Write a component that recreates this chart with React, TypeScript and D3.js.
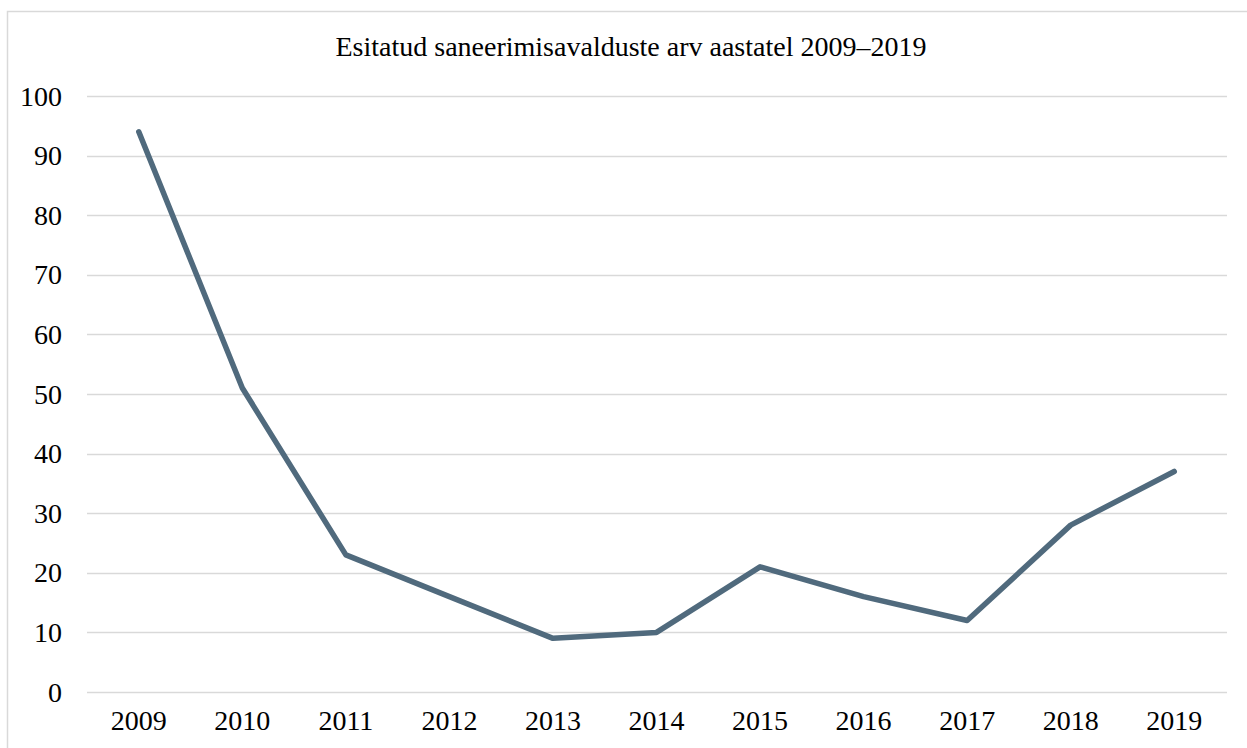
import { useEffect, useRef } from "react";
import * as d3 from "d3";

const years = ["2009", "2010", "2011", "2012", "2013", "2014", "2015", "2016", "2017", "2018", "2019"];
const counts = [94, 51, 23, 16, 9, 10, 21, 16, 12, 28, 37];
const yTicks = [0, 10, 20, 30, 40, 50, 60, 70, 80, 90, 100];
const title = "Esitatud saneerimisavalduste arv aastatel 2009–2019";

const W = 1247;
const H = 748;
const margin = { left: 87, right: 21, top: 96, bottom: 56 };
const font = "'Liberation Serif', 'Times New Roman', serif";
const fontSize = 28;

function App() {
  const ref = useRef<SVGSVGElement>(null);

  useEffect(() => {
    const svg = d3.select(ref.current);
    svg.selectAll("*").remove();

    const x = d3.scaleBand().domain(years).range([margin.left, W - margin.right]);
    const y = d3.scaleLinear().domain([0, 100]).range([H - margin.bottom, margin.top]);

    // chart frame (right and bottom edges fall off the picture)
    svg.append("rect")
      .attr("x", 7.5).attr("y", 11.5)
      .attr("width", W).attr("height", H)
      .attr("fill", "#fff")
      .attr("stroke", "#d9d9d9")
      .attr("stroke-width", 1.5);

    // title is centred on the whole chart area, not on the plot
    svg.append("text")
      .attr("x", 631)
      .attr("y", 56)
      .attr("text-anchor", "middle")
      .attr("font-family", font)
      .attr("font-size", fontSize)
      .attr("fill", "#000")
      .text(title);

    // horizontal gridlines
    svg.append("g")
      .selectAll("line")
      .data(yTicks)
      .join("line")
      .attr("x1", margin.left)
      .attr("x2", W - margin.right + 1)
      .attr("y1", (d) => Math.round(y(d)) + 0.5)
      .attr("y2", (d) => Math.round(y(d)) + 0.5)
      .attr("stroke", "#d9d9d9")
      .attr("stroke-width", 1.5);

    svg.append("g")
      .selectAll("text")
      .data(yTicks)
      .join("text")
      .attr("x", 62)
      .attr("y", (d) => y(d) + 9.5)
      .attr("text-anchor", "end")
      .attr("font-family", font)
      .attr("font-size", fontSize)
      .attr("fill", "#000")
      .text((d) => d);

    svg.append("g")
      .selectAll("text")
      .data(years)
      .join("text")
      .attr("x", (d) => (x(d) ?? 0) + x.bandwidth() / 2)
      .attr("y", 730)
      .attr("text-anchor", "middle")
      .attr("font-family", font)
      .attr("font-size", fontSize)
      .attr("fill", "#000")
      .text((d) => d);

    const line = d3.line<number>()
      .x((_, i) => (x(years[i]) ?? 0) + x.bandwidth() / 2)
      .y((d) => y(d));

    svg.append("path")
      .datum(counts)
      .attr("d", line)
      .attr("fill", "none")
      .attr("stroke", "#506a7d")
      .attr("stroke-width", 5.5)
      .attr("stroke-linejoin", "round")
      .attr("stroke-linecap", "round");
  }, []);

  return (
    <svg
      ref={ref}
      width={W}
      height={H}
      style={{ position: "absolute", left: 0, top: 0, display: "block", background: "#fff" }}
    />
  );
}

export default App;
